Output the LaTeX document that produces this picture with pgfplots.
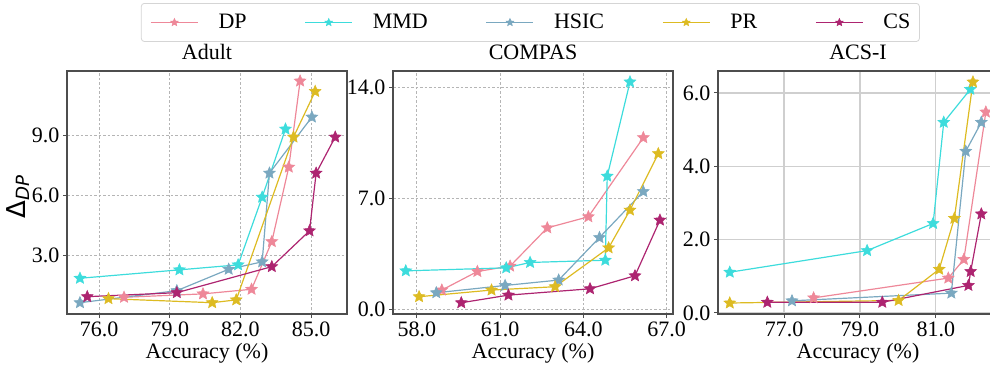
\documentclass[border=0pt]{standalone}
\usepackage{fontspec}
\setmainfont{Liberation Serif}
\newfontfamily\dejavu{DejaVu Sans}
\usepackage{pgfplots}
\pgfplotsset{compat=1.18}

\definecolor{cDP}{HTML}{EE8899}
\definecolor{cMMD}{HTML}{3DDCDC}
\definecolor{cHSIC}{HTML}{7AA8C0}
\definecolor{cPR}{HTML}{DDBB22}
\definecolor{cCS}{HTML}{AD2470}
\definecolor{axgray}{HTML}{4D4D4D}
\definecolor{gridgray}{HTML}{B5B5B5}
\definecolor{gridsolid}{HTML}{CFCFCF}
\definecolor{leggray}{HTML}{D5D5D5}

\pgfdeclareplotmark{fstar}{%
 \pgfpathmoveto{\pgfpointpolar{90}{\pgfplotmarksize}}%
 \pgfpathlineto{\pgfpointpolar{126}{0.46\pgfplotmarksize}}%
 \pgfpathlineto{\pgfpointpolar{162}{\pgfplotmarksize}}%
 \pgfpathlineto{\pgfpointpolar{198}{0.46\pgfplotmarksize}}%
 \pgfpathlineto{\pgfpointpolar{234}{\pgfplotmarksize}}%
 \pgfpathlineto{\pgfpointpolar{270}{0.46\pgfplotmarksize}}%
 \pgfpathlineto{\pgfpointpolar{306}{\pgfplotmarksize}}%
 \pgfpathlineto{\pgfpointpolar{342}{0.46\pgfplotmarksize}}%
 \pgfpathlineto{\pgfpointpolar{18}{\pgfplotmarksize}}%
 \pgfpathlineto{\pgfpointpolar{54}{0.46\pgfplotmarksize}}%
 \pgfpathclose
 \pgfusepathqfillstroke
}

\pgfplotsset{
 panel/.style={
  scale only axis, width=280pt, height=243pt,
  axis line style={draw=axgray, line width=1.2pt},
  tick style={draw=axgray, line width=1pt},
  tick align=outside, major tick length=4pt,
  xtick pos=bottom, ytick pos=left,
  grid=major,
  tick label style={font=\fontsize{22}{22}\selectfont},
  title style={font=\fontsize{22}{22}\selectfont, at={(axis description cs:0.5,1.0206)}, anchor=base},
  xlabel style={font=\fontsize{22}{22}\selectfont, at={(axis description cs:0.5,-0.185)}, anchor=base},
  xlabel={Accuracy (\%)},
  /pgf/number format/fixed,
  /pgf/number format/fixed zerofill,
  /pgf/number format/precision=1,
  /pgf/number format/assume math mode=true,
  every axis plot/.append style={line width=1.2pt, mark=fstar, mark size=6.2pt, mark options={line width=0.5pt}},
  clip=false,
 },
 dashgrid/.style={major grid style={draw=gridgray, line width=0.8pt, dash pattern=on 2.5pt off 2pt}},
 solidgrid/.style={major grid style={draw=gridsolid, line width=1.3pt}},
}

\begin{document}
\begin{tikzpicture}
\useasboundingbox (0pt,0pt) rectangle (990pt,368pt);

% ---------------- Adult ----------------
\begin{axis}[panel, dashgrid, at={(67pt,54pt)}, anchor=south west,
  title={Adult},
  xmin=74.64, xmax=86.52, ymin=0.065, ymax=12.2,
  xtick={76,79,82,85}, ytick={3,6,9},
  ylabel={{\dejavu\fontsize{26}{26}\selectfont Δ\textsubscript{\itshape DP}}},
  ylabel style={at={(axis description cs:-0.150,0.481)}, anchor=base, rotate=0},
  legend style={at={(axis description cs:0.264,1.2798)}, anchor=north west,
    draw=leggray, line width=0.8pt, rounded corners=3pt,
    font=\fontsize{22}{22}\selectfont,
    inner xsep=9pt, inner ysep=11pt,
    /tikz/every odd column/.append style={column sep=20pt},
    /tikz/every even column/.append style={column sep=58pt},
    nodes={inner sep=0pt}},
  legend columns=5,
  legend image code/.code={\draw[mark repeat=2,mark phase=2,#1,mark size=4pt] plot coordinates {(0pt,0pt) (23.5pt,0pt) (47pt,0pt)};},
]
\addplot[color=cDP] coordinates {(77.06,0.90) (80.41,1.07) (82.47,1.30) (83.33,3.68) (84.05,7.40) (84.53,11.70)};
\addlegendentry{DP}
\addplot[color=cMMD] coordinates {(75.19,1.85) (79.41,2.27) (81.90,2.52) (82.92,5.90) (83.91,9.30)};
\addlegendentry{MMD}
\addplot[color=cHSIC] coordinates {(75.19,0.63) (79.30,1.23) (81.50,2.30) (82.92,2.67) (83.23,7.10) (85.03,9.90)};
\addlegendentry{HSIC}
\addplot[color=cPR] coordinates {(76.40,0.83) (80.80,0.63) (81.82,0.77) (84.25,8.90) (85.17,11.18)};
\addlegendentry{PR}
\addplot[color=cCS] coordinates {(75.50,0.93) (79.30,1.13) (83.33,2.43) (84.93,4.22) (85.21,7.10) (86.02,8.90)};
\addlegendentry{CS}
\end{axis}

% ---------------- COMPAS ----------------
\begin{axis}[panel, dashgrid, at={(393pt,54pt)}, anchor=south west,
  title={COMPAS},
  xmin=57.14, xmax=67.23, ymin=-0.29, ymax=15.03,
  xtick={58,61,64,67}, ytick={0,7,14},
]
\addplot[color=cDP] coordinates {(58.90,1.22) (60.18,2.39) (61.36,2.73) (62.70,5.14) (64.18,5.84) (66.16,10.83)};
\addplot[color=cMMD] coordinates {(57.60,2.43) (61.22,2.62) (62.08,2.96) (64.79,3.10) (64.86,8.40) (65.68,14.34)};
\addplot[color=cHSIC] coordinates {(58.70,1.05) (61.18,1.51) (63.11,1.85) (64.58,4.53) (66.16,7.43)};
\addplot[color=cPR] coordinates {(58.08,0.80) (60.69,1.22) (62.98,1.43) (64.91,3.88) (65.68,6.26) (66.70,9.82)};
\addplot[color=cCS] coordinates {(59.60,0.42) (61.30,0.90) (64.24,1.30) (65.86,2.12) (66.76,5.63)};
\end{axis}

% ---------------- ACS-I ----------------
\begin{axis}[panel, solidgrid, at={(718pt,54pt)}, anchor=south west,
  title={ACS-I},
  xmin=75.26, xmax=82.64, ymin=-0.03, ymax=6.6,
  xtick={77,79,81}, ytick={0,2,4,6},
]
\addplot[color=cDP] coordinates {(77.78,0.41) (81.33,0.95) (81.74,1.46) (82.32,5.48)};
\addplot[color=cMMD] coordinates {(75.57,1.11) (79.19,1.70) (80.93,2.44) (81.21,5.20) (81.91,6.10)};
\addplot[color=cHSIC] coordinates {(77.21,0.33) (81.41,0.54) (81.79,4.41) (82.20,5.20)};
\addplot[color=cPR] coordinates {(75.57,0.27) (80.02,0.34) (81.09,1.19) (81.49,2.58) (81.98,6.30)};
\addplot[color=cCS] coordinates {(76.56,0.29) (79.59,0.29) (81.86,0.75) (81.92,1.13) (82.20,2.70)};
\end{axis}
\end{tikzpicture}
\end{document}
